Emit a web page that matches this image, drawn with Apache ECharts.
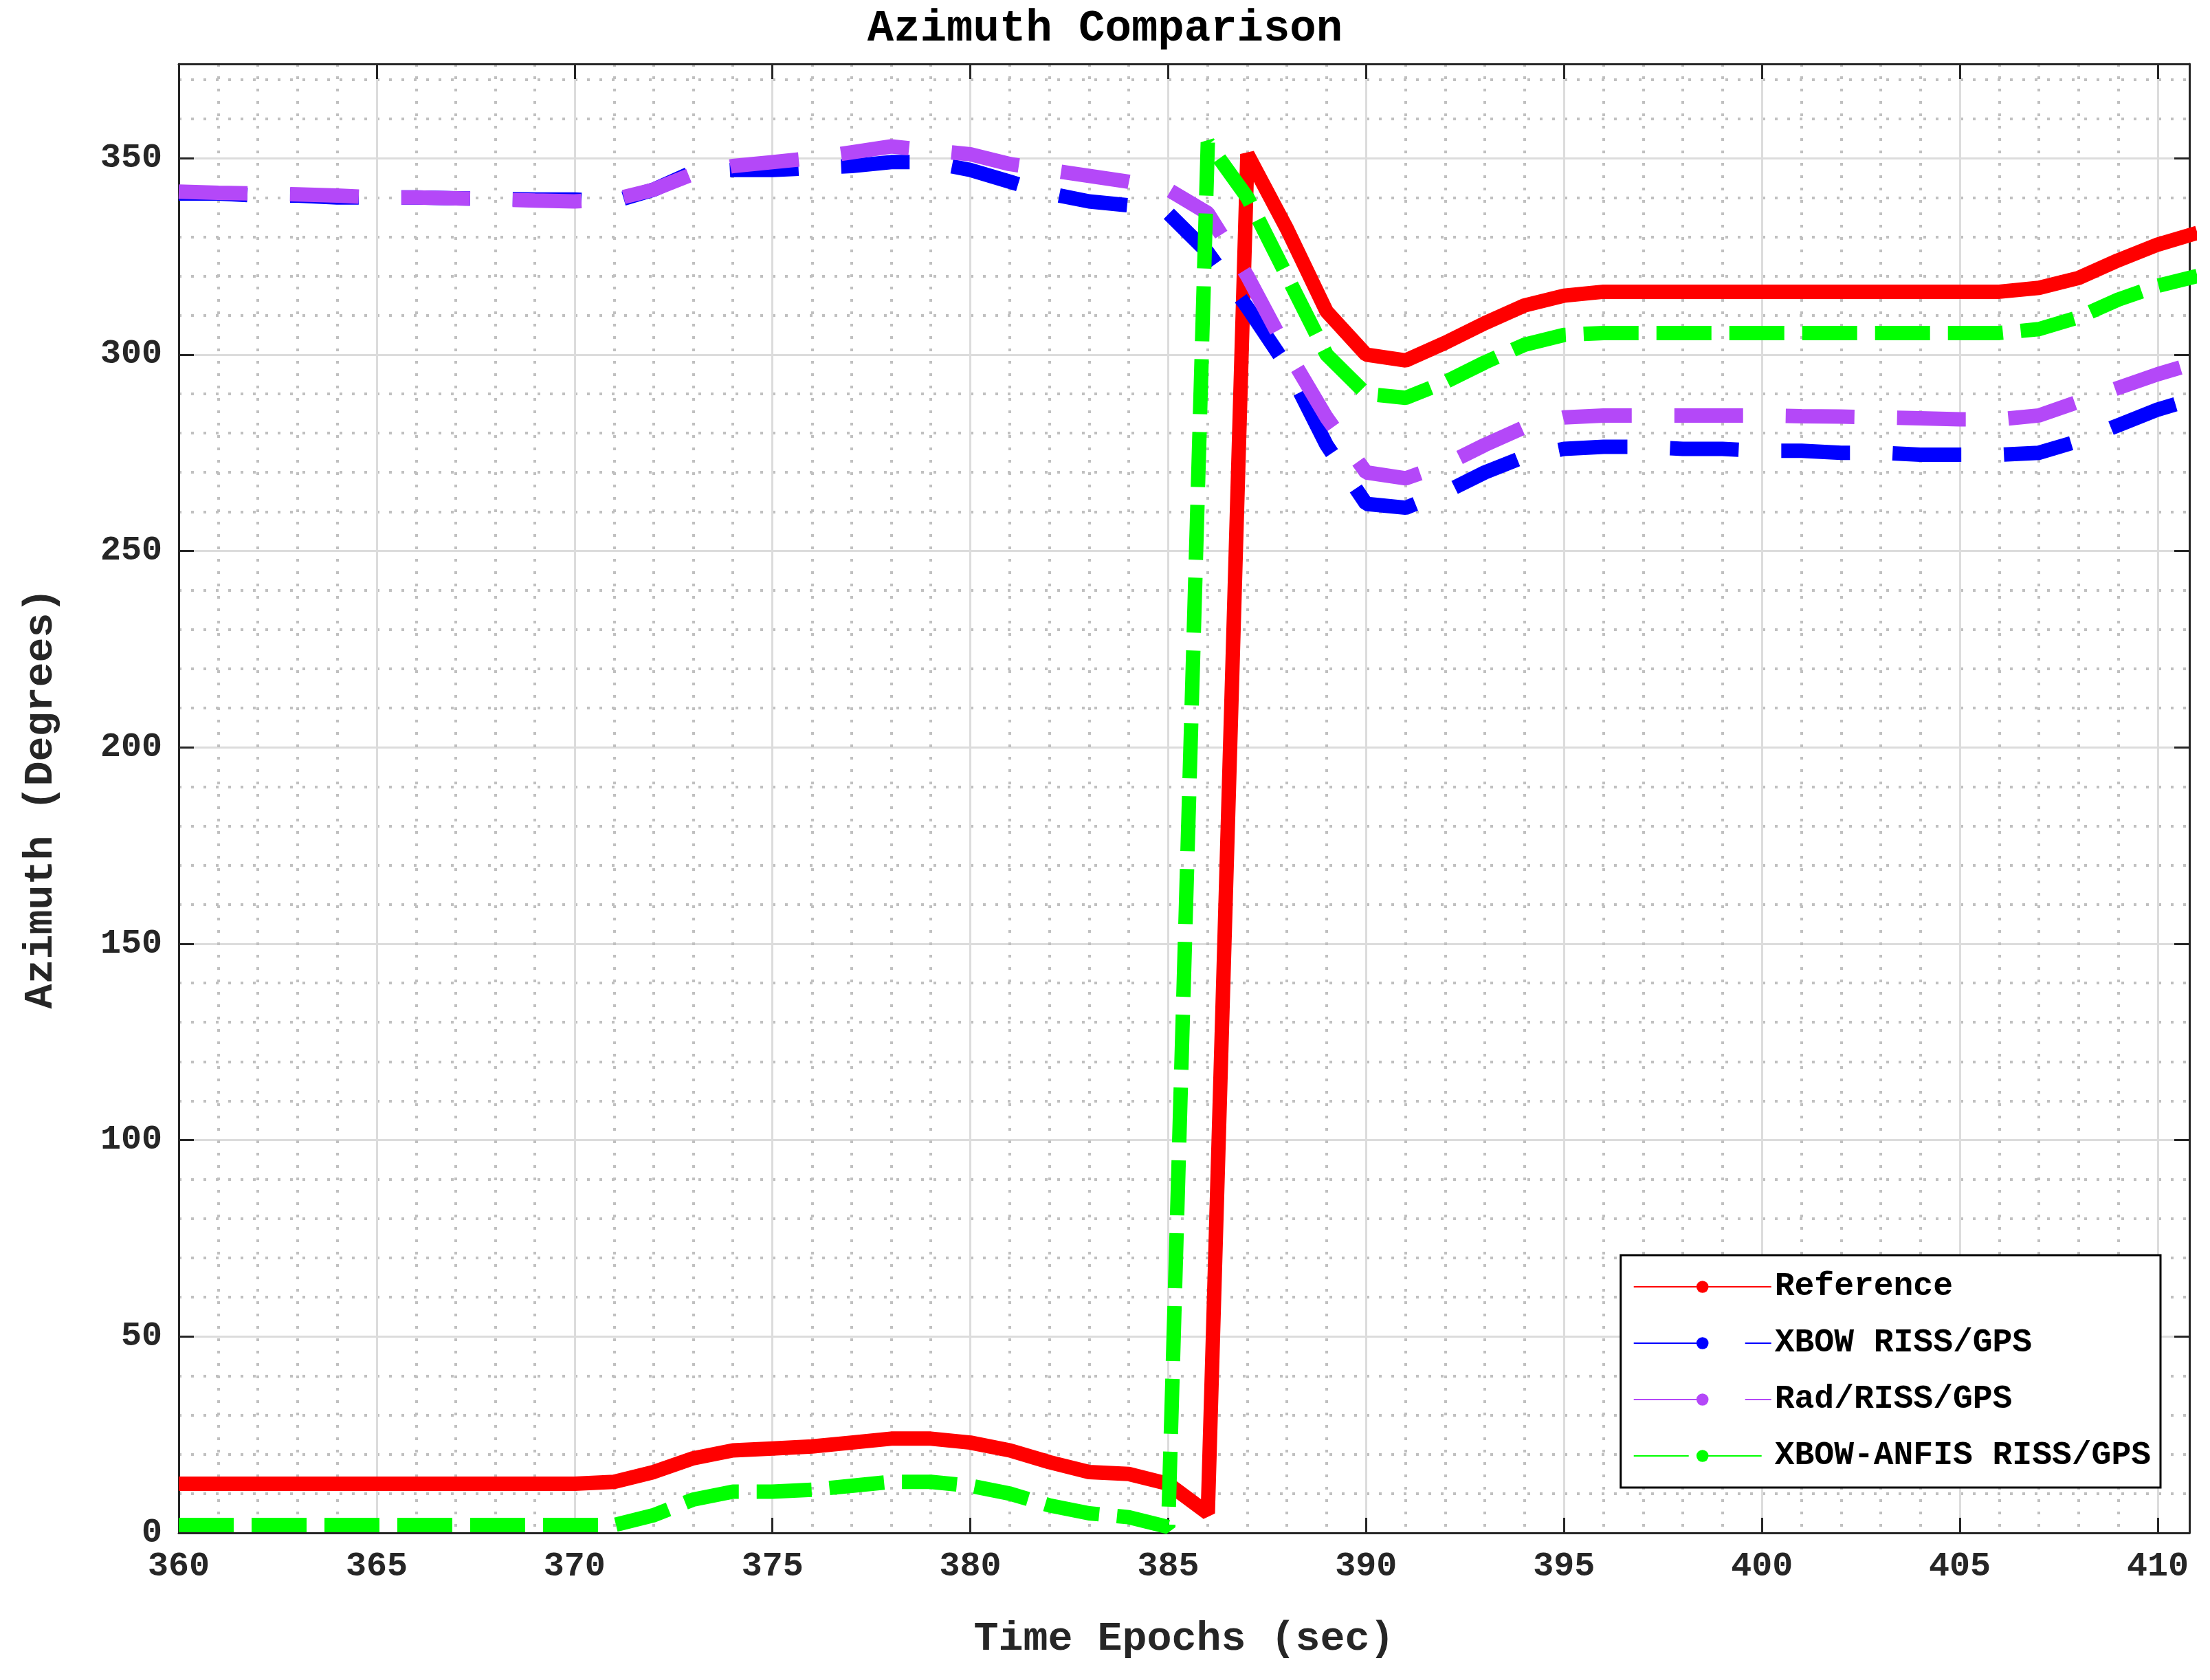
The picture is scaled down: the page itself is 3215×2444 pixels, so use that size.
<!DOCTYPE html>
<html>
<head>
<meta charset="utf-8">
<script src="https://cdn.jsdelivr.net/npm/echarts@6/dist/echarts.min.js"></script>
<style>html,body{margin:0;background:#fff}#chart{width:3215px;height:2444px}</style>
</head>
<body>
<div id="chart"></div>
<script>
var epochs = [];
for (var t = 360; t <= 411; t++) epochs.push(t);

var reference = [12.5,12.5,12.5,12.5,12.5,12.5,12.5,12.5,12.5,12.5,12.5,13,15.5,19,21,21.5,22,23,24,24,23,21,18,15.5,15,12.5,5,351,332,311,300,298.5,303,308,312.5,315,316,316,316,316,316,316,316,316,316,316,316,317,319.5,324,328,331];
var xbow = [341,341,340.5,340.5,340,340,340,339.8,339.6,339.5,339.5,339,342,346.5,347,347,347.5,348,349,349,347,344,341,339,338,336,326,312,297,277,262,261,265,270,274,276,276.5,276.5,276,276,275.5,275.5,275,275,274.5,274.5,274.5,275,278,282,286,289];
var rad = [341.5,341.2,341,340.8,340.5,340,340,339.8,339.5,339.2,339,339.5,342,346,348,349,350,351.5,353,352,351,348.5,347,345.5,344,342,336,320,301,284,270,268.5,272,277,281.5,284,284.5,284.5,284.5,284.5,284.5,284.3,284.2,284,283.8,283.5,283.5,284.5,288,291.5,295,298];
var anfis = [2,2,2,2,2,2,2,2,2,2,2,2,4.5,8.5,10.5,10.5,11,12,13,13,12,10,7,5,4,1.5,354,340,320,300,290,289,293,298,302.5,305,305.5,305.5,305.5,305.5,305.5,305.5,305.5,305.5,305.5,305.5,305.5,306.5,309.5,314,317.5,320];

function pairs(ys) { return epochs.map(function(x, i) { return [x, ys[i]]; }); }

var font = '"Liberation Mono", "DejaVu Sans Mono", monospace';
var chart = echarts.init(document.getElementById('chart'));

function axisCommon(extra) {
  var a = {
    axisLine: {show: true, onZero: false, lineStyle: {color: '#262626', width: 3}},
    axisTick: {show: true, inside: true, length: 22, lineStyle: {color: '#262626', width: 3}},
    minorTick: {show: false},
    splitLine: {show: false},
    minorSplitLine: {show: false}
  };
  for (var k in extra) a[k] = extra[k];
  return a;
}

chart.setOption({
  backgroundColor: '#fff',
  animation: false,
  title: {
    text: 'Azimuth Comparison', left: 'center', top: 6,
    textStyle: {fontFamily: font, fontWeight: 'bold', fontSize: 64, color: '#000'}
  },
  grid: {left: 260, right: 30, top: 93, bottom: 214},
  legend: {
    right: 72, bottom: 280, orient: 'vertical',
    backgroundColor: '#fff', borderColor: '#000', borderWidth: 3,
    padding: [22, 14, 22, 18], itemGap: 34, itemWidth: 200, itemHeight: 22,
    textStyle: {fontFamily: font, fontWeight: 'bold', fontSize: 48, color: '#000'},
    data: ['Reference', 'XBOW RISS/GPS', 'Rad/RISS/GPS', 'XBOW-ANFIS RISS/GPS']
  },
  xAxis: [
    axisCommon({
      type: 'value', min: 360, max: 410.8, interval: 5,
      name: 'Time Epochs (sec)', nameLocation: 'middle', nameGap: 125,
      nameTextStyle: {fontFamily: font, fontWeight: 'bold', fontSize: 60, color: '#262626'},
      axisLabel: {fontFamily: font, fontWeight: 'bold', fontSize: 50, color: '#262626', margin: 24,
        formatter: function(v) { return v % 5 === 0 ? String(v) : ''; }},
      splitLine: {show: true, lineStyle: {color: '#dcdcdc', width: 3}},
      minorTick: {show: false, splitNumber: 5},
      minorSplitLine: {show: true, lineStyle: {color: '#c0c0c0', width: 4, type: [4, 14]}}
    }),
    axisCommon({type: 'value', position: 'top', min: 360, max: 410.8, interval: 5, axisLabel: {show: false}})
  ],
  yAxis: [
    axisCommon({
      type: 'value', min: 0, max: 374, interval: 50,
      name: 'Azimuth (Degrees)', nameLocation: 'middle', nameGap: 170,
      nameTextStyle: {fontFamily: font, fontWeight: 'bold', fontSize: 60, color: '#262626'},
      axisLabel: {fontFamily: font, fontWeight: 'bold', fontSize: 50, color: '#262626', margin: 24,
        formatter: function(v) { return v % 50 === 0 ? String(v) : ''; }},
      splitLine: {show: true, lineStyle: {color: '#dcdcdc', width: 3}},
      minorTick: {show: false, splitNumber: 5},
      minorSplitLine: {show: true, lineStyle: {color: '#c0c0c0', width: 4, type: [4, 14]}}
    }),
    axisCommon({type: 'value', position: 'right', min: 0, max: 374, interval: 50, axisLabel: {show: false}})
  ],
  series: [
    {name: 'Reference', type: 'line', data: pairs(reference), symbol: 'none', clip: true,
      itemStyle: {color: '#ff0000'}, lineStyle: {color: '#ff0000', width: 21}},
    {name: 'XBOW RISS/GPS', type: 'line', data: pairs(xbow), symbol: 'none', clip: true,
      itemStyle: {color: '#0000ff'}, lineStyle: {color: '#0000ff', width: 21, type: [100, 62]}},
    {name: 'Rad/RISS/GPS', type: 'line', data: pairs(rad), symbol: 'none', clip: true,
      itemStyle: {color: '#b448f8'}, lineStyle: {color: '#b448f8', width: 21, type: [100, 62]}},
    {name: 'XBOW-ANFIS RISS/GPS', type: 'line', data: pairs(anfis), symbol: 'none', clip: true,
      itemStyle: {color: '#00ff00'}, lineStyle: {color: '#00ff00', width: 21, type: [80, 26]}}
  ]
});
</script>
</body>
</html>
